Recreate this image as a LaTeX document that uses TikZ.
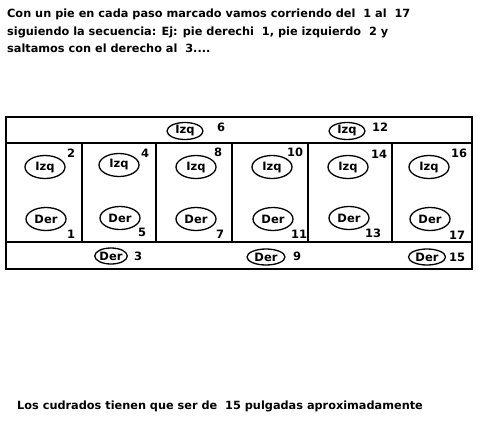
\documentclass[tikz,border=0pt]{standalone}
\usepackage{fontspec}
\setmainfont{DejaVu Sans}
\usetikzlibrary{shapes.geometric}
\begin{document}
\begin{tikzpicture}[x=1pt,y=-1pt,
  box/.style={draw,line width=1.6pt},
  foot/.style={draw,ellipse,line width=1.3pt,inner sep=0pt,minimum width=40pt,minimum height=23pt,font=\fontsize{11.5}{11.5}\selectfont\bfseries},
  small/.style={minimum width=36pt,minimum height=17pt},
  num/.style={inner sep=0pt,font=\fontsize{11.5}{11.5}\selectfont\bfseries},
  txt/.style={inner sep=0pt,anchor=west,font=\fontsize{11.3}{11.3}\selectfont\bfseries}]
\useasboundingbox (0,0) rectangle (481,434);
% frames
\draw[box] (6,117) rectangle (472,269);
\draw[box] (6,143) -- (472,143);
\draw[box] (6,242) -- (472,242);
\foreach \x in {82,156,232,308,392} \draw[box] (\x,143) -- (\x,242);
% text
\node[txt] (t1) at (7,14) {Con un pie en cada paso marcado vamos corriendo del \ 1 al \ 17};
\node[txt] (t2) at (7,32) {siguiendo la secuencia: Ej: pie derechi \ 1, pie izquierdo \ 2 y};
\node[txt] (t3) at (7,48) {saltamos con el derecho al \ 3....};
\node[txt] (t4) at (17,406) {Los cudrados tienen que ser de \ 15 pulgadas aproximadamente};
% top band
\node[foot,small] (i6) at (185,131) {Izq};
\node[num] (n6) at (221,127) {6};
\node[foot,small] (i12) at (347,131) {Izq};
\node[num] (n12) at (380,127) {12};
% cells Izq
\node[foot] (i2) at (45,167) {Izq};   \node[num] (n2) at (71,153) {2};
\node[foot] (i4) at (119,165) {Izq};  \node[num] (n4) at (145,153) {4};
\node[foot] (i8) at (196,167) {Izq};  \node[num] (n8) at (218,152) {8};
\node[foot] (i10) at (272,167) {Izq}; \node[num] (n10) at (295,152) {10};
\node[foot] (i14) at (348,167) {Izq}; \node[num] (n14) at (379,154) {14};
\node[foot] (i16) at (429,167) {Izq}; \node[num] (n16) at (459,153) {16};
% cells Der
\node[foot] (d1) at (46,219) {Der};   \node[num] (n1) at (71,234) {1};
\node[foot] (d5) at (120,218) {Der};  \node[num] (n5) at (142,232) {5};
\node[foot] (d7) at (196,219) {Der};  \node[num] (n7) at (220,234) {7};
\node[foot] (d11) at (273,219) {Der}; \node[num] (n11) at (299,234) {11};
\node[foot] (d13) at (349,218) {Der}; \node[num] (n13) at (373,233) {13};
\node[foot] (d17) at (430,219) {Der}; \node[num] (n17) at (457,235) {17};
% bottom band
\node[foot,minimum width=32pt,minimum height=16pt] (d3) at (111,256) {Der}; \node[num] (n3) at (138,256) {3};
\node[foot,minimum width=38pt,minimum height=16pt] (d9) at (266,257) {Der}; \node[num] (n9) at (297,256) {9};
\node[foot,minimum width=37pt,minimum height=16pt] (d15) at (427,257) {Der}; \node[num] (n15) at (457,257) {15};
\end{tikzpicture}
\end{document}
